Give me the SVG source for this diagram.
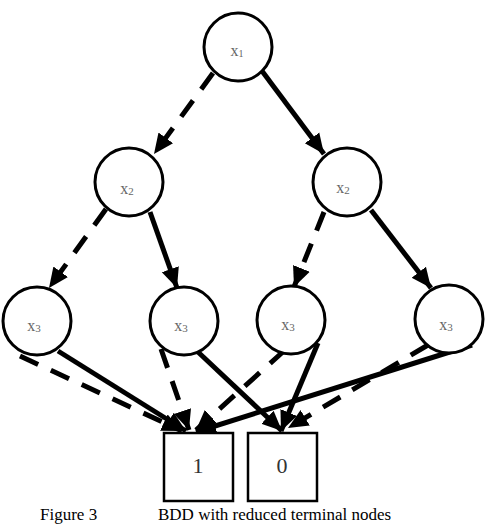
<svg xmlns="http://www.w3.org/2000/svg" width="492" height="525" viewBox="0 0 492 525">
<style>
.node{fill:#fff;stroke:#000;stroke-width:3}
.term{fill:#fff;stroke:#000;stroke-width:2.5}
.lbl{font-family:"Liberation Serif","Times New Roman",serif;font-size:16px;fill:#666;text-anchor:middle}
.tl{font-family:"Liberation Serif","Times New Roman",serif;font-size:22px;fill:#333;text-anchor:middle}
.cap{font-family:"Liberation Serif","Times New Roman",serif;font-size:17px;fill:#000}
.e{stroke:#000;stroke-width:5;fill:none;marker-end:url(#ah)}
.d{stroke-dasharray:20 14}
</style>
<defs>
<marker id="ah" markerUnits="userSpaceOnUse" markerWidth="22" markerHeight="20" refX="20" refY="9" orient="auto" viewBox="0 0 22 18">
<path d="M0,0 L20,9 L0,18 z" fill="#000"/>
</marker>
</defs>
<rect width="492" height="525" fill="#fff"/>
<g id="connectors">
<line class="e d" x1="213" y1="73" x2="154" y2="154"/>
<line class="e" x1="262" y1="71" x2="324" y2="154"/>
<line class="e d" x1="106" y1="209" x2="49" y2="288"/>
<line class="e" x1="150" y1="212" x2="177" y2="288"/>
<line class="e d" x1="324" y1="212" x2="294" y2="287"/>
<line class="e" x1="371" y1="210" x2="431" y2="288"/>
<line class="e" x1="58" y1="351" x2="186" y2="431"/>
<line class="e d" x1="20" y1="356" x2="182" y2="431"/>
<line class="e d" x1="161" y1="349" x2="189" y2="430"/>
<line class="e d" x1="285" y1="350" x2="196" y2="430"/>
<line class="e" x1="472" y1="345" x2="196" y2="432"/>
<line class="e" x1="198" y1="352" x2="282" y2="431"/>
<line class="e" x1="318" y1="343" x2="281" y2="431"/>
<line class="e d" x1="428" y1="345" x2="288" y2="428"/>
</g>
<g id="n_x1"><circle class="node" cx="238" cy="47" r="34"/><text class="lbl" x="237" y="56">x<tspan font-size="10" dy="1">1</tspan></text></g>
<g id="n_x2a"><circle class="node" cx="129" cy="182" r="34"/><text class="lbl" x="127" y="194">x<tspan font-size="11" dy="1">2</tspan></text></g>
<g id="n_x2b"><circle class="node" cx="347" cy="182" r="34"/><text class="lbl" x="343" y="193">x<tspan font-size="11" dy="1">2</tspan></text></g>
<g id="n_x3a"><circle class="node" cx="37" cy="321" r="34"/><text class="lbl" x="34" y="331">x<tspan font-size="11" dy="1">3</tspan></text></g>
<g id="n_x3b"><circle class="node" cx="184" cy="321" r="34"/><text class="lbl" x="181" y="331">x<tspan font-size="11" dy="1">3</tspan></text></g>
<g id="n_x3c"><circle class="node" cx="291" cy="320" r="34"/><text class="lbl" x="288" y="330">x<tspan font-size="11" dy="1">3</tspan></text></g>
<g id="n_x3d"><circle class="node" cx="449" cy="319" r="34"/><text class="lbl" x="446" y="330">x<tspan font-size="11" dy="1">3</tspan></text></g>
<g id="t_1"><rect class="term" x="164" y="433" width="69" height="68"/><text class="tl" x="198" y="473">1</text></g>
<g id="t_0"><rect class="term" x="248" y="433" width="69" height="68"/><text class="tl" x="282" y="473">0</text></g>
<text class="cap" x="40" y="520">Figure 3</text>
<text class="cap" x="158" y="520">BDD with reduced terminal nodes</text>
</svg>
